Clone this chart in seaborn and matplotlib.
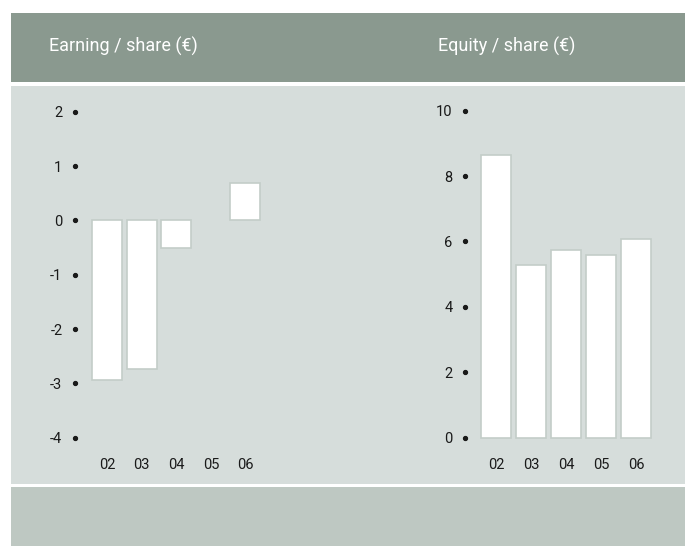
import matplotlib
matplotlib.use("Agg")
import matplotlib.pyplot as plt
from matplotlib.patches import Rectangle
import seaborn as sns
import pandas as pd

# ----------------------------------------------------------------------
# DATA
# ----------------------------------------------------------------------
years = ["02", "03", "04", "05", "06"]
earning_per_share = [-2.93, -2.73, -0.51, 0.0, 0.68]
equity_per_share = [8.65, 5.28, 5.75, 5.58, 6.09]
earning_ticks = [2, 1, 0, -1, -2, -3, -4]
equity_ticks = [10, 8, 6, 4, 2, 0]
titles = ["Earning / share (€)", "Equity / share (€)"]

HEADER = "#8a998f"
PANEL = "#d6dddb"
FOOTER = "#bec8c2"
EDGE = "#c3cdc8"
TEXT = "#1a1a1a"

W, H = 685, 546

sns.set_style("white")
plt.rcParams["font.family"] = ["Roboto", "DejaVu Sans"]

fig = plt.figure(figsize=(W / 100, H / 100), dpi=100)
fig.patch.set_facecolor("white")


def px_rect(x0, y0, x1, y1, color):
    # rectangle given in pixel coords (origin top-left), kept behind the axes
    fig.patches.append(Rectangle((x0 / W, 1 - y1 / H), (x1 - x0) / W, (y1 - y0) / H,
                                 transform=fig.transFigure, facecolor=color,
                                 edgecolor="none", zorder=-5))


px_rect(11, 13, W, 82, HEADER)
px_rect(11, 86, W, 484, PANEL)
px_rect(11, 487, W, H, FOOTER)

fig.text(49 / W, 1 - 46 / H, titles[0], color="white", fontsize=13, va="center", ha="left")
fig.text(438 / W, 1 - 46 / H, titles[1], color="white", fontsize=13, va="center", ha="left")


def make_axes(left_px, right_px):
    ax = fig.add_axes([left_px / W, 1 - 450 / H, (right_px - left_px) / W, 350 / H])
    ax.set_facecolor("none")
    ax.set_zorder(2)
    return ax


def style_axes(ax, ticks):
    sns.despine(ax=ax, left=True, bottom=True)
    ax.set_yticks(ticks)
    ax.set_yticklabels([str(t) for t in ticks])
    ax.set_xlabel("")
    ax.set_ylabel("")
    ax.tick_params(axis="y", length=0, pad=9, labelsize=10.5, labelcolor=TEXT)
    ax.tick_params(axis="x", length=0, pad=6, labelsize=10.5, labelcolor=TEXT)
    for t in ax.yaxis.get_major_ticks():
        t.tick1line.set_marker("o")
        t.tick1line.set_markersize(3)
        t.tick1line.set_markerfacecolor(TEXT)
        t.tick1line.set_markeredgecolor(TEXT)
        t.tick1line.set_visible(True)
    # a zero value leaves no visible bar
    for bar in ax.patches:
        if bar.get_height() == 0:
            bar.set_visible(False)
    ax.grid(False)


df_earn = pd.DataFrame({"year": years, "value": earning_per_share})
df_eq = pd.DataFrame({"year": years, "value": equity_per_share})

# Earning / share
ax1 = make_axes(75, 275)
sns.barplot(data=df_earn, x="year", y="value", color="white", edgecolor=EDGE,
            linewidth=1.2, width=0.87, saturation=1, ax=ax1)
ax1.set_xlim(-0.936, 4.855)
ax1.set_ylim(-4.226, 2.215)
style_axes(ax1, earning_ticks)

# Equity / share
ax2 = make_axes(465, 675)
sns.barplot(data=df_eq, x="year", y="value", color="white", edgecolor=EDGE,
            linewidth=1.2, width=0.86, saturation=1, ax=ax2)
ax2.set_xlim(-0.886, 5.11)
ax2.set_ylim(-0.376, 10.327)
style_axes(ax2, equity_ticks)

fig.savefig("out.png", dpi=100, facecolor="white")
